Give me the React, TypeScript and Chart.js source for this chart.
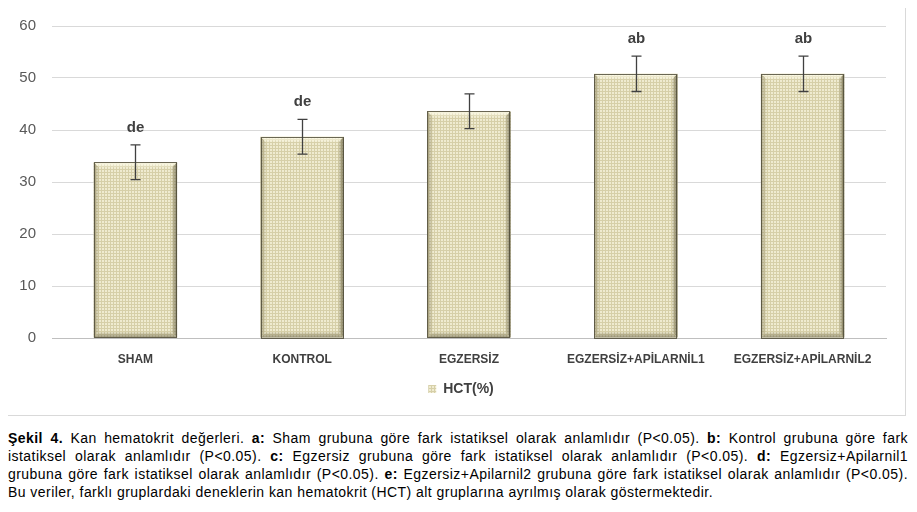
import React, { useEffect, useRef } from "react";
import { Chart, registerables } from "chart.js";

Chart.register(...registerables);

const categories = ["SHAM", "KONTROL", "EGZERSİZ", "EGZERSİZ+APİLARNİL1", "EGZERSİZ+APİLARNİL2"];
const hctValues = [33.8, 38.7, 43.6, 50.8, 50.8];
const hctErrors = [3.35, 3.35, 3.35, 3.4, 3.4];
const sigLetters = ["de", "de", "", "ab", "ab"];
const seriesLabel = "HCT(%)";
const yMin = 0;
const yMax = 60;
const yStep = 10;

function makePattern(): CanvasPattern | string {
  const c = document.createElement("canvas");
  c.width = 3;
  c.height = 3;
  const g = c.getContext("2d");
  if (!g) return "#e3dec0";
  g.fillStyle = "#d6cfa8";
  g.fillRect(0, 0, 3, 3);
  g.fillStyle = "#efebd0";
  g.fillRect(1, 1, 2, 2);
  const p = g.createPattern(c, "repeat");
  return p || "#e3dec0";
}

const legendShiftPlugin = {
  id: "legendShift",
  afterLayout(chart: any) {
    const lg = chart.legend;
    if (lg) {
      lg.left += 14;
      lg.right += 14;
    }
  },
};

const bevelPlugin = {
  id: "bevel",
  afterDatasetsDraw(chart: any) {
    const ctx = chart.ctx as CanvasRenderingContext2D;
    const meta = chart.getDatasetMeta(0);
    ctx.save();
    meta.data.forEach((bar: any) => {
      const p = bar.getProps(["x", "y", "base", "width"], true);
      const l = p.x - p.width / 2;
      const r = p.x + p.width / 2;
      const t = p.y;
      const b = p.base;
      const bv = 6;
      let gr = ctx.createLinearGradient(0, t, 0, t + bv);
      gr.addColorStop(0, "rgba(255,253,235,0.95)");
      gr.addColorStop(1, "rgba(255,253,235,0)");
      ctx.fillStyle = gr;
      ctx.beginPath();
      ctx.moveTo(l, t);
      ctx.lineTo(r, t);
      ctx.lineTo(r - bv, t + bv);
      ctx.lineTo(l + bv, t + bv);
      ctx.closePath();
      ctx.fill();
      gr = ctx.createLinearGradient(r, 0, r - bv, 0);
      gr.addColorStop(0, "rgba(100,95,68,0.8)");
      gr.addColorStop(1, "rgba(100,95,68,0)");
      ctx.fillStyle = gr;
      ctx.beginPath();
      ctx.moveTo(r, t);
      ctx.lineTo(r, b);
      ctx.lineTo(r - bv, b - bv);
      ctx.lineTo(r - bv, t + bv);
      ctx.closePath();
      ctx.fill();
      gr = ctx.createLinearGradient(l, 0, l + bv, 0);
      gr.addColorStop(0, "rgba(130,123,90,0.6)");
      gr.addColorStop(1, "rgba(130,123,90,0)");
      ctx.fillStyle = gr;
      ctx.beginPath();
      ctx.moveTo(l, t);
      ctx.lineTo(l, b);
      ctx.lineTo(l + bv, b - bv);
      ctx.lineTo(l + bv, t + bv);
      ctx.closePath();
      ctx.fill();
      gr = ctx.createLinearGradient(0, b, 0, b - bv);
      gr.addColorStop(0, "rgba(110,104,75,0.65)");
      gr.addColorStop(1, "rgba(110,104,75,0)");
      ctx.fillStyle = gr;
      ctx.beginPath();
      ctx.moveTo(l, b);
      ctx.lineTo(r, b);
      ctx.lineTo(r - bv, b - bv);
      ctx.lineTo(l + bv, b - bv);
      ctx.closePath();
      ctx.fill();
      ctx.strokeStyle = "rgba(80,76,58,0.85)";
      ctx.lineWidth = 1;
      ctx.strokeRect(Math.round(l) + 0.5, Math.round(t) + 0.5, Math.round(r - l) - 1, Math.round(b - t));
    });
    ctx.restore();
  },
};

const errorBarPlugin = {
  id: "errorBars",
  afterDatasetsDraw(chart: any) {
    const ctx = chart.ctx as CanvasRenderingContext2D;
    const meta = chart.getDatasetMeta(0);
    const ys = chart.scales.y;
    ctx.save();
    ctx.strokeStyle = "#404040";
    ctx.lineWidth = 1.3;
    meta.data.forEach((bar: any, i: number) => {
      const x = Math.round(bar.x) + 0.5;
      const top = ys.getPixelForValue(hctValues[i] + hctErrors[i]);
      const bot = ys.getPixelForValue(hctValues[i] - hctErrors[i]);
      ctx.beginPath();
      ctx.moveTo(x, top);
      ctx.lineTo(x, bot);
      ctx.moveTo(x - 5, top);
      ctx.lineTo(x + 5, top);
      ctx.moveTo(x - 5, bot);
      ctx.lineTo(x + 5, bot);
      ctx.stroke();
      const letters = sigLetters[i];
      if (letters) {
        ctx.fillStyle = "#404040";
        ctx.font = "bold 15px 'Liberation Sans', Arial, sans-serif";
        ctx.textAlign = "center";
        ctx.textBaseline = "middle";
        ctx.fillText(letters, x, top - 17);
      }
    });
    ctx.restore();
  },
};

function ChartBox() {
  const ref = useRef<HTMLCanvasElement | null>(null);
  useEffect(() => {
    if (!ref.current) return;
    const pattern = makePattern();
    const chart = new Chart(ref.current, {
      type: "bar",
      data: {
        labels: categories,
        datasets: [
          {
            label: seriesLabel,
            data: hctValues,
            backgroundColor: pattern as any,
            borderColor: "#7d785e",
            borderWidth: 0,
            categoryPercentage: 1,
            barPercentage: 0.5,
          },
        ],
      },
      options: {
        animation: false,
        responsive: false,
        maintainAspectRatio: false,
        layout: { padding: { left: 0, right: 19, top: 19, bottom: 9 } },
        plugins: {
          tooltip: { enabled: false },
          legend: {
            display: true,
            position: "bottom",
            labels: {
              boxWidth: 8,
              boxHeight: 8,
              padding: 10,
              color: "#404040",
              font: { family: "'Liberation Sans', Arial, sans-serif", size: 14, weight: "bold" },
            },
          },
        },
        scales: {
          x: {
            grid: { display: false, drawTicks: false },
            border: { display: true, color: "#bfbfbf", width: 1 },
            ticks: {
              padding: 14,
              color: "#404040",
              maxRotation: 0,
              autoSkip: false,
              font: { family: "'Liberation Sans', Arial, sans-serif", size: 12, weight: "bold" },
            },
            afterFit: (s: any) => {
              s.height = 34;
            },
          },
          y: {
            min: yMin,
            max: yMax,
            grid: { color: "#d9d9d9", drawTicks: false, lineWidth: 1 },
            border: { display: false },
            ticks: {
              stepSize: yStep,
              padding: 16,
              color: "#595959",
              font: { family: "'Liberation Sans', Arial, sans-serif", size: 15 },
            },
            afterFit: (s: any) => {
              s.width = 44;
              s.paddingTop = 0;
              s.paddingBottom = 0;
            },
          },
        },
      },
      plugins: [legendShiftPlugin, bevelPlugin, errorBarPlugin],
    });
    return () => chart.destroy();
  }, []);
  return <canvas ref={ref} width={897} height={408} style={{ display: "block", width: 897, height: 408 }} />;
}

const lineStyle = (last: boolean): React.CSSProperties => ({
  whiteSpace: "nowrap",
  textAlign: "justify",
  textAlignLast: last ? "left" : "justify",
  height: 18,
});

export default function App() {
  return (
    <div style={{ width: 901, fontFamily: "'Liberation Sans', Arial, sans-serif" }}>
      <div style={{ border: "1px solid #d9d9d9", width: 897, height: 408, marginLeft: -1, marginTop: -2 }}>
        <ChartBox />
      </div>
      <div
        style={{
          marginTop: 13,
          width: 900,
          fontSize: 14,
          letterSpacing: "0.45px",
          lineHeight: "18px",
          color: "#000",
        }}
      >
        <div style={lineStyle(false)}>
          <b>Şekil 4.</b> Kan hematokrit değerleri. <b>a:</b> Sham grubuna göre fark istatiksel olarak anlamlıdır
          (P&lt;0.05). <b>b:</b> Kontrol grubuna göre fark
        </div>
        <div style={lineStyle(false)}>
          istatiksel olarak anlamlıdır (P&lt;0.05). <b>c:</b> Egzersiz grubuna göre fark istatiksel olarak anlamlıdır
          (P&lt;0.05). <b>d:</b> Egzersiz+Apilarnil1
        </div>
        <div style={lineStyle(false)}>
          grubuna göre fark istatiksel olarak anlamlıdır (P&lt;0.05). <b>e:</b> Egzersiz+Apilarnil2 grubuna göre fark
          istatiksel olarak anlamlıdır (P&lt;0.05).
        </div>
        <div style={lineStyle(true)}>
          Bu veriler, farklı gruplardaki deneklerin kan hematokrit (HCT) alt gruplarına ayrılmış olarak
          göstermektedir.
        </div>
      </div>
    </div>
  );
}
